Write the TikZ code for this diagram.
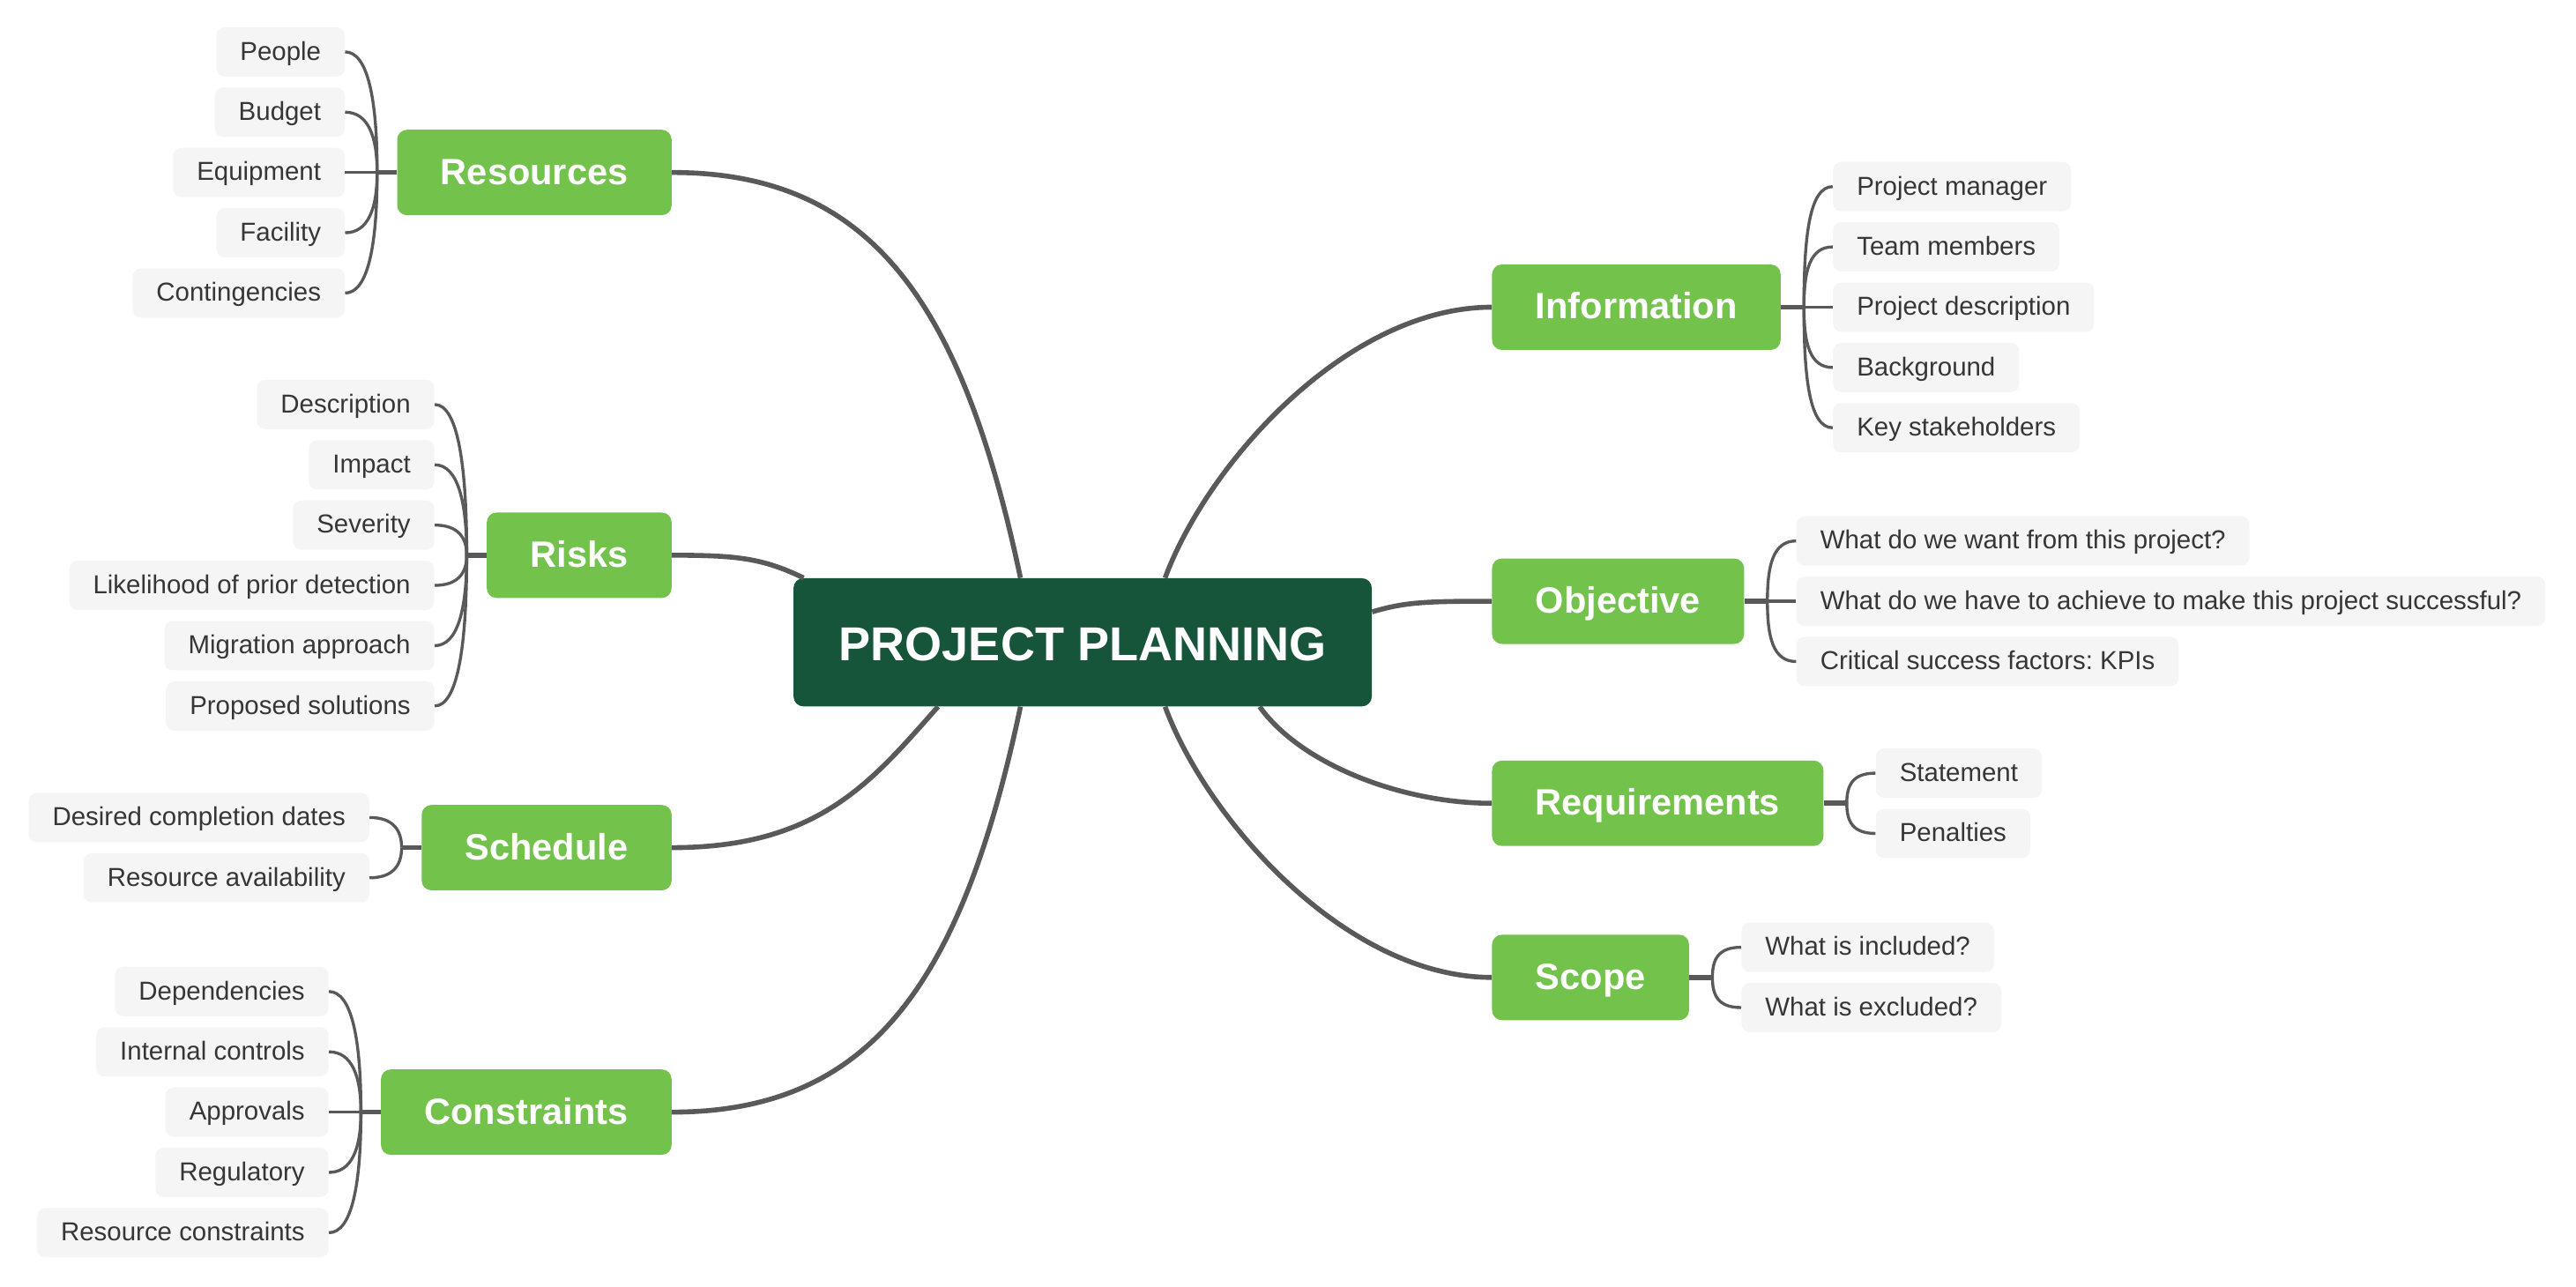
\documentclass[tikz,border=0pt]{standalone}
\usepackage{fontspec}
\setmainfont{Liberation Sans}
\frenchspacing
\usetikzlibrary{calc}
\definecolor{rootgreen}{HTML}{17553A}
\definecolor{topicgreen}{HTML}{72C24B}
\definecolor{leafgray}{HTML}{F5F5F5}
\definecolor{inkgray}{HTML}{363636}
\definecolor{wiregray}{HTML}{595959}
\tikzset{
  x=1pt, y=-1pt, % one unit per pixel, y runs downwards
  root/.style={fill=rootgreen, text=white, rounded corners=6pt, minimum width=352pt,
    minimum height=78pt, text height=22pt, text depth=0pt, font=\fontsize{29}{30}\selectfont\bfseries},
  topic/.style={fill=topicgreen, text=white, rounded corners=6pt, minimum height=52pt,
    inner xsep=26.5pt, text height=19pt, text depth=4.6pt, font=\fontsize{22.3}{24}\selectfont\bfseries},
  leaf/.style={fill=leafgray, text=inkgray, rounded corners=5pt, minimum height=30pt,
    inner xsep=14.5pt, text height=13.4pt, text depth=3.4pt, font=\fontsize{15.8}{18}\selectfont},
  stem/.style={draw=wiregray, line width=3pt}, % centre to topic
  twig/.style={draw=wiregray, line width=1.8pt}, % topic to leaf
}

\begin{document}
\begin{tikzpicture}
  \fill[white] (0,0) rectangle (1568,783.4);
  \useasboundingbox (0,0) rectangle (1568,783.4);

  \node[root] (plan) at (659,391) {PROJECT PLANNING};

  % topics on the left
  \node[topic, anchor=east] (res) at (409,105) {Resources};
  \node[topic, anchor=east] (risk) at (409,338) {Risks};
  \node[topic, anchor=east] (sched) at (409,516) {Schedule};
  \node[topic, anchor=east] (cons) at (409,677) {Constraints};

  % topics on the right
  \node[topic, anchor=west] (info) at (908,187) {Information};
  \node[topic, anchor=west] (obj) at (908,366) {Objective};
  \node[topic, anchor=west] (req) at (908,489) {Requirements};
  \node[topic, anchor=west] (scope) at (908,595) {Scope};

  % centre to topics
  \draw[stem] (res.east) .. controls +(120,0) and +(-36,-170) .. (plan.134);
  \draw[stem] (risk.east) .. controls +(40,0) and +(-25,-12) .. (plan.167);
  \draw[stem] (sched.east) .. controls +(90,0) and +(-40,45) .. (plan.204);
  \draw[stem] (cons.east) .. controls +(120,0) and +(-36,170) .. (plan.226);
  \draw[stem] (info.west) .. controls +(-88,0) and +(26,-70) .. (plan.38);
  \draw[stem] (obj.west) .. controls +(-40,0) and +(20,-6) .. (plan.6);
  \draw[stem] (req.west) .. controls +(-55,0) and +(25,35) .. (plan.340);
  \draw[stem] (scope.west) .. controls +(-88,0) and +(26,70) .. (plan.322);

  % leaves of Resources
  \coordinate (resj) at ($(res.west)+(-12,0)$);
  \draw[stem] (res.west) -- (resj);
  \foreach \txt [count=\i] in {People, Budget, Equipment, Facility, Contingencies} {
    \node[leaf, anchor=east] (res\i) at ($(res.west)+(-31.5,{(\i-3)*36.7})$) {\txt};
    \draw[twig] (res\i.east) .. controls +(14,0) and +(0,{(\i-3)*22}) .. (resj);
  }

  % leaves of Risks
  \coordinate (riskj) at ($(risk.west)+(-12,0)$);
  \draw[stem] (risk.west) -- (riskj);
  \foreach \txt [count=\i] in {Description, Impact, Severity, Likelihood of prior detection,
      Migration approach, Proposed solutions} {
    \node[leaf, anchor=east] (risk\i) at ($(risk.west)+(-31.5,{(\i-3.5)*36.7})$) {\txt};
    \draw[twig] (risk\i.east) .. controls +(14,0) and +(0,{(\i-3.5)*22}) .. (riskj);
  }

  % leaves of Schedule
  \coordinate (schedj) at ($(sched.west)+(-12,0)$);
  \draw[stem] (sched.west) -- (schedj);
  \foreach \txt [count=\i] in {Desired completion dates, Resource availability} {
    \node[leaf, anchor=east] (sched\i) at ($(sched.west)+(-31.5,{(\i-1.5)*36.7})$) {\txt};
    \draw[twig] (sched\i.east) .. controls +(14,0) and +(0,{(\i-1.5)*22}) .. (schedj);
  }

  % leaves of Constraints
  \coordinate (consj) at ($(cons.west)+(-12,0)$);
  \draw[stem] (cons.west) -- (consj);
  \foreach \txt [count=\i] in {Dependencies, Internal controls, Approvals, Regulatory,
      Resource constraints} {
    \node[leaf, anchor=east] (cons\i) at ($(cons.west)+(-31.5,{(\i-3)*36.7})$) {\txt};
    \draw[twig] (cons\i.east) .. controls +(14,0) and +(0,{(\i-3)*22}) .. (consj);
  }

  % leaves of Information
  \coordinate (infoj) at ($(info.east)+(14,0)$);
  \draw[stem] (info.east) -- (infoj);
  \foreach \txt [count=\i] in {Project manager, Team members, Project description,
      Background, Key stakeholders} {
    \node[leaf, anchor=west] (info\i) at ($(info.east)+(31.5,{(\i-3)*36.7})$) {\txt};
    \draw[twig] (info\i.west) .. controls +(-14,0) and +(0,{(\i-3)*22}) .. (infoj);
  }

  % leaves of Objective
  \coordinate (objj) at ($(obj.east)+(14,0)$);
  \draw[stem] (obj.east) -- (objj);
  \foreach \txt [count=\i] in {What do we want from this project?,
      What do we have to achieve to make this project successful?,
      Critical success factors: KPIs} {
    \node[leaf, anchor=west] (obj\i) at ($(obj.east)+(31.5,{(\i-2)*36.7})$) {\txt};
    \draw[twig] (obj\i.west) .. controls +(-14,0) and +(0,{(\i-2)*22}) .. (objj);
  }

  % leaves of Requirements
  \coordinate (reqj) at ($(req.east)+(14,0)$);
  \draw[stem] (req.east) -- (reqj);
  \foreach \txt [count=\i] in {Statement, Penalties} {
    \node[leaf, anchor=west] (req\i) at ($(req.east)+(31.5,{(\i-1.5)*36.7})$) {\txt};
    \draw[twig] (req\i.west) .. controls +(-14,0) and +(0,{(\i-1.5)*22}) .. (reqj);
  }

  % leaves of Scope
  \coordinate (scopej) at ($(scope.east)+(14,0)$);
  \draw[stem] (scope.east) -- (scopej);
  \foreach \txt [count=\i] in {What is included?, What is excluded?} {
    \node[leaf, anchor=west] (scope\i) at ($(scope.east)+(31.5,{(\i-1.5)*36.7})$) {\txt};
    \draw[twig] (scope\i.west) .. controls +(-14,0) and +(0,{(\i-1.5)*22}) .. (scopej);
  }
\end{tikzpicture}
\end{document}
